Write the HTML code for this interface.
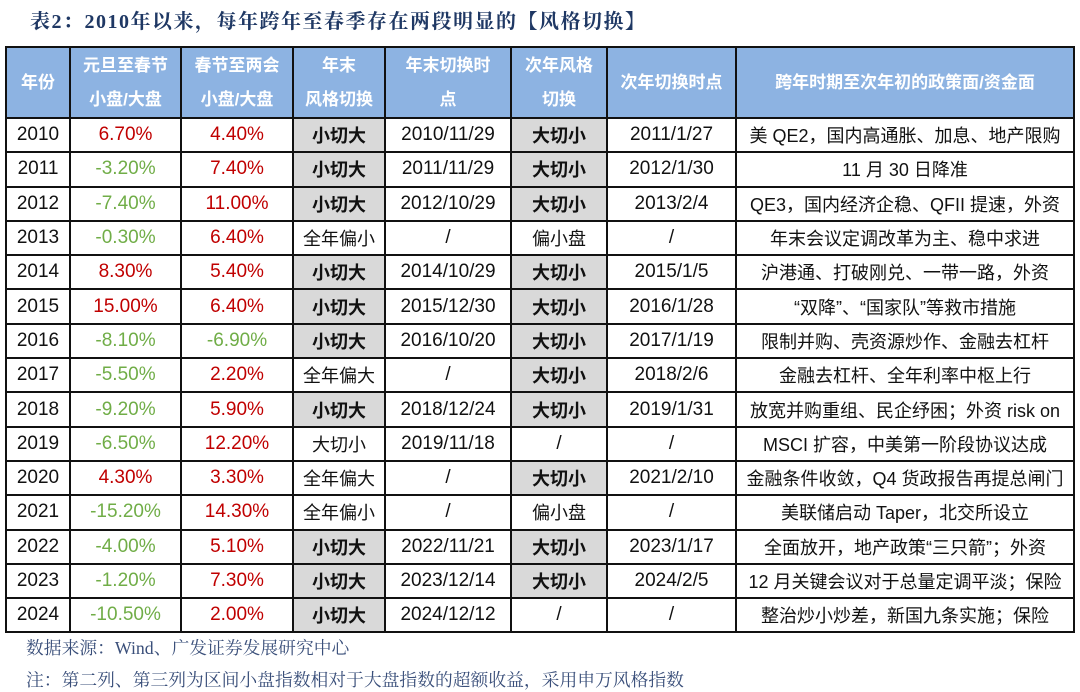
<!DOCTYPE html>
<html><head><meta charset="utf-8"><style>
body{margin:0;width:1080px;height:691px;background:#fff;position:relative;overflow:hidden;font-family:"Liberation Sans","Noto Sans CJK SC",sans-serif;}
.title{position:absolute;left:30px;top:5px;font-size:20px;font-weight:bold;color:#1f3864;font-family:"Liberation Serif","Noto Serif CJK SC",serif;letter-spacing:1.5px}
table{position:absolute;left:5px;top:46px;border-collapse:collapse;table-layout:fixed;}
td,th{border:2px solid #111;text-align:center;font-size:18px;padding:0;color:#111;height:32.3px;white-space:nowrap;overflow:hidden}
th{background:#8db3e2;color:#fff;font-weight:bold;font-size:17px;line-height:34px;height:69px}
.n{font-size:19px}
.r{color:#c00000}.g{color:#70ad47}
.b{background:#d9d9d9;font-weight:bold}
.src{position:absolute;left:26px;top:635px;font-size:17.8px;color:#3a4f7a;font-family:"Liberation Serif","Noto Serif CJK SC",serif}
.note{position:absolute;left:26px;top:667px;font-size:17.8px;color:#3a4f7a;font-family:"Liberation Serif","Noto Serif CJK SC",serif}
</style></head><body>
<div class="title">表2：2010年以来，每年跨年至春季存在两段明显的【风格切换】</div>
<table>
<colgroup><col style="width:64px"><col style="width:111px"><col style="width:112px"><col style="width:92px"><col style="width:126px"><col style="width:96px"><col style="width:129px"><col style="width:338px"></colgroup>
<tr><th>年份</th><th>元旦至春节<br>小盘/大盘</th><th>春节至两会<br>小盘/大盘</th><th>年末<br>风格切换</th><th>年末切换时<br>点</th><th>次年风格<br>切换</th><th>次年切换时点</th><th>跨年时期至次年初的政策面/资金面</th></tr>
<tr><td class="n">2010</td><td class="r n">6.70%</td><td class="r n">4.40%</td><td class="b">小切大</td><td class="n">2010/11/29</td><td class="b">大切小</td><td class="n">2011/1/27</td><td>美 QE2，国内高通胀、加息、地产限购</td></tr>
<tr><td class="n">2011</td><td class="g n">-3.20%</td><td class="r n">7.40%</td><td class="b">小切大</td><td class="n">2011/11/29</td><td class="b">大切小</td><td class="n">2012/1/30</td><td>11 月 30 日降准</td></tr>
<tr><td class="n">2012</td><td class="g n">-7.40%</td><td class="r n">11.00%</td><td class="b">小切大</td><td class="n">2012/10/29</td><td class="b">大切小</td><td class="n">2013/2/4</td><td>QE3，国内经济企稳、QFII 提速，外资</td></tr>
<tr><td class="n">2013</td><td class="g n">-0.30%</td><td class="r n">6.40%</td><td>全年偏小</td><td class="n">/</td><td>偏小盘</td><td class="n">/</td><td>年末会议定调改革为主、稳中求进</td></tr>
<tr><td class="n">2014</td><td class="r n">8.30%</td><td class="r n">5.40%</td><td class="b">小切大</td><td class="n">2014/10/29</td><td class="b">大切小</td><td class="n">2015/1/5</td><td>沪港通、打破刚兑、一带一路，外资</td></tr>
<tr><td class="n">2015</td><td class="r n">15.00%</td><td class="r n">6.40%</td><td class="b">小切大</td><td class="n">2015/12/30</td><td class="b">大切小</td><td class="n">2016/1/28</td><td>“双降”、“国家队”等救市措施</td></tr>
<tr><td class="n">2016</td><td class="g n">-8.10%</td><td class="g n">-6.90%</td><td class="b">小切大</td><td class="n">2016/10/20</td><td class="b">大切小</td><td class="n">2017/1/19</td><td>限制并购、壳资源炒作、金融去杠杆</td></tr>
<tr><td class="n">2017</td><td class="g n">-5.50%</td><td class="r n">2.20%</td><td>全年偏大</td><td class="n">/</td><td class="b">大切小</td><td class="n">2018/2/6</td><td>金融去杠杆、全年利率中枢上行</td></tr>
<tr><td class="n">2018</td><td class="g n">-9.20%</td><td class="r n">5.90%</td><td class="b">小切大</td><td class="n">2018/12/24</td><td class="b">大切小</td><td class="n">2019/1/31</td><td>放宽并购重组、民企纾困；外资 risk on</td></tr>
<tr><td class="n">2019</td><td class="g n">-6.50%</td><td class="r n">12.20%</td><td>大切小</td><td class="n">2019/11/18</td><td class="n">/</td><td class="n">/</td><td>MSCI 扩容，中美第一阶段协议达成</td></tr>
<tr><td class="n">2020</td><td class="r n">4.30%</td><td class="r n">3.30%</td><td>全年偏大</td><td class="n">/</td><td class="b">大切小</td><td class="n">2021/2/10</td><td>金融条件收敛，Q4 货政报告再提总闸门</td></tr>
<tr><td class="n">2021</td><td class="g n">-15.20%</td><td class="r n">14.30%</td><td>全年偏小</td><td class="n">/</td><td>偏小盘</td><td class="n">/</td><td>美联储启动 Taper，北交所设立</td></tr>
<tr><td class="n">2022</td><td class="g n">-4.00%</td><td class="r n">5.10%</td><td class="b">小切大</td><td class="n">2022/11/21</td><td class="b">大切小</td><td class="n">2023/1/17</td><td>全面放开，地产政策“三只箭”；外资</td></tr>
<tr><td class="n">2023</td><td class="g n">-1.20%</td><td class="r n">7.30%</td><td class="b">小切大</td><td class="n">2023/12/14</td><td class="b">大切小</td><td class="n">2024/2/5</td><td>12 月关键会议对于总量定调平淡；保险</td></tr>
<tr><td class="n">2024</td><td class="g n">-10.50%</td><td class="r n">2.00%</td><td class="b">小切大</td><td class="n">2024/12/12</td><td class="n">/</td><td class="n">/</td><td>整治炒小炒差，新国九条实施；保险</td></tr>
</table>
<div class="src">数据来源：Wind、广发证券发展研究中心</div>
<div class="note">注：第二列、第三列为区间小盘指数相对于大盘指数的超额收益，采用申万风格指数</div>
</body></html>
